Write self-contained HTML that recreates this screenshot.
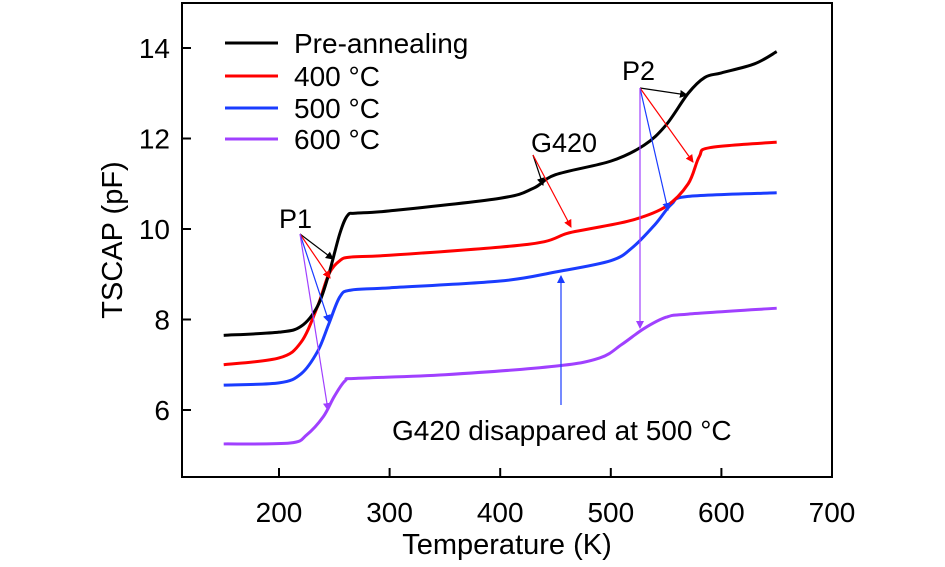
<!DOCTYPE html>
<html><head><meta charset="utf-8"><style>
body{margin:0;background:#fff}
svg{display:block;font-family:"Liberation Sans",sans-serif}
</style></head><body>
<svg id="chart" width="945" height="567" viewBox="0 0 945 567" xmlns="http://www.w3.org/2000/svg">
<defs>
<marker id="ak" markerWidth="8" markerHeight="8" refX="7" refY="4" orient="auto" markerUnits="userSpaceOnUse"><path d="M0,0L8,4L0,8z" fill="#000"/></marker>
<marker id="ar" markerWidth="8" markerHeight="8" refX="7" refY="4" orient="auto" markerUnits="userSpaceOnUse"><path d="M0,0L8,4L0,8z" fill="#f00"/></marker>
<marker id="ab" markerWidth="8" markerHeight="8" refX="7" refY="4" orient="auto" markerUnits="userSpaceOnUse"><path d="M0,0L8,4L0,8z" fill="#1a3cff"/></marker>
<marker id="ap" markerWidth="8" markerHeight="8" refX="7" refY="4" orient="auto" markerUnits="userSpaceOnUse"><path d="M0,0L8,4L0,8z" fill="#a040ff"/></marker>
</defs>
<rect x="182" y="3" width="650" height="474" fill="none" stroke="#000" stroke-width="2"/>
<g id="axes"></g>
<g id="series"></g>
<g font-size="28">
<line x1="225" y1="43" x2="278" y2="43" stroke="#000" stroke-width="3"/><text x="294" y="53">Pre-annealing</text>
<line x1="225" y1="76" x2="278" y2="76" stroke="#f00" stroke-width="3"/><text x="294" y="86">400 °C</text>
<line x1="225" y1="108" x2="278" y2="108" stroke="#1a3cff" stroke-width="3"/><text x="294" y="118">500 °C</text>
<line x1="225" y1="139" x2="278" y2="139" stroke="#a040ff" stroke-width="3"/><text x="294" y="149">600 °C</text>
</g>
<g font-size="27" stroke-width="1.2">
<text x="279" y="228" stroke="none">P1</text>
<line x1="300" y1="234" x2="333" y2="259" stroke="#000" marker-end="url(#ak)"/>
<line x1="300" y1="234" x2="330" y2="278" stroke="#f00" marker-end="url(#ar)"/>
<line x1="300" y1="234" x2="329" y2="322" stroke="#1a3cff" marker-end="url(#ab)"/>
<line x1="300" y1="234" x2="328" y2="410" stroke="#a040ff" marker-end="url(#ap)"/>
<text x="531" y="152" stroke="none">G420</text>
<line x1="533" y1="155" x2="543" y2="185" stroke="#000" marker-end="url(#ak)"/>
<line x1="533" y1="155" x2="571" y2="227" stroke="#f00" marker-end="url(#ar)"/>
<text x="622" y="80" stroke="none">P2</text>
<line x1="640" y1="88" x2="687" y2="95" stroke="#000" marker-end="url(#ak)"/>
<line x1="640" y1="88" x2="693" y2="162" stroke="#f00" marker-end="url(#ar)"/>
<line x1="640" y1="88" x2="668" y2="210" stroke="#1a3cff" marker-end="url(#ab)"/>
<line x1="640" y1="88" x2="640" y2="328" stroke="#a040ff" marker-end="url(#ap)"/>
<line x1="561" y1="405" x2="561" y2="276" stroke="#1a3cff" marker-end="url(#ab)"/>
<text x="392" y="440" stroke="none" font-size="28">G420 disappared at 500 °C</text>
</g>
</svg>
<script>
const temps=[150,200,220,235,245,255,262,270,300,400,430,450,500,530,550,570,585,600,630,650];
const preVals=[7.65,7.72,7.85,8.3,9.0,9.9,10.3,10.35,10.4,10.68,10.9,11.2,11.5,11.85,12.3,13.0,13.35,13.45,13.65,13.92];
const t400=[150,200,220,235,245,255,265,300,400,440,460,480,520,550,570,580,590,650];
const v400=[7.0,7.15,7.5,8.3,9.0,9.3,9.38,9.42,9.6,9.72,9.9,10.0,10.2,10.5,11.0,11.6,11.8,11.92];
const t500=[150,200,220,235,245,255,265,300,400,450,500,520,540,555,570,650];
const v500=[6.55,6.6,6.8,7.3,7.9,8.5,8.65,8.7,8.85,9.05,9.3,9.6,10.1,10.55,10.72,10.8];
const t600=[150,210,225,240,250,260,270,350,450,490,510,530,550,570,650];
const v600=[5.25,5.27,5.45,5.85,6.3,6.65,6.7,6.78,6.97,7.15,7.45,7.8,8.05,8.12,8.25];
const xTicks=[200,300,400,500,600,700];
const yTicks=[6,8,10,12,14];
const NS='http://www.w3.org/2000/svg';
const X=t=>279+(t-200)*(832-279)/500;
const Y=v=>410-(v-6)*45.25;
const axes=document.getElementById('axes'),ser=document.getElementById('series');
function mk(tag,attrs,parent){const e=document.createElementNS(NS,tag);for(const k in attrs)e.setAttribute(k,attrs[k]);parent.appendChild(e);return e;}
xTicks.forEach(t=>{
 const l=mk('line',{x1:X(t),x2:X(t),y1:477,y2:468,stroke:'#000','stroke-width':2},axes);
 
 
 const tx=mk('text',{x:X(t),y:522,'text-anchor':'middle','font-size':28},axes);tx.textContent=t;
 
 
});
yTicks.forEach(v=>{
 const l=mk('line',{x1:182,x2:191,y1:Y(v),y2:Y(v),stroke:'#000','stroke-width':2},axes);
 
 
 const tx=mk('text',{x:170,y:Y(v)+10,'text-anchor':'end','font-size':28},axes);tx.textContent=v;
 
 
});
const xt=mk('text',{x:507,y:554,'text-anchor':'middle','font-size':29},axes);xt.textContent='Temperature (K)';


const yt=mk('text',{x:0,y:0,'text-anchor':'middle','font-size':29,transform:'translate(122,240) rotate(-90)'},axes);yt.textContent='TSCAP (pF)';


function smooth(pts){
 let d='M'+pts[0][0]+','+pts[0][1];
 for(let i=0;i<pts.length-1;i++){
  const p0=pts[i-1]||pts[i],p1=pts[i],p2=pts[i+1],p3=pts[i+2]||p2;
  const c1x=p1[0]+(p2[0]-p0[0])/6,c1y=p1[1]+(p2[1]-p0[1])/6;
  const c2x=p2[0]-(p3[0]-p1[0])/6,c2y=p2[1]-(p3[1]-p1[1])/6;
  d+=' C'+c1x+','+c1y+' '+c2x+','+c2y+' '+p2[0]+','+p2[1];
 }
 return d;
}
function line(ts,vs,color,name){
 const p=mk('path',{d:smooth(ts.map((t,i)=>[X(t),Y(vs[i])])),fill:'none',stroke:color,'stroke-width':3,'stroke-linejoin':'round'},ser);
 
 
}
line(t600,v600,'#a040ff','series-600c');
line(t500,v500,'#1a3cff','series-500c');
line(t400,v400,'#f00','series-400c');
line(temps,preVals,'#000','series-pre-annealing');
</script>
</body></html>
